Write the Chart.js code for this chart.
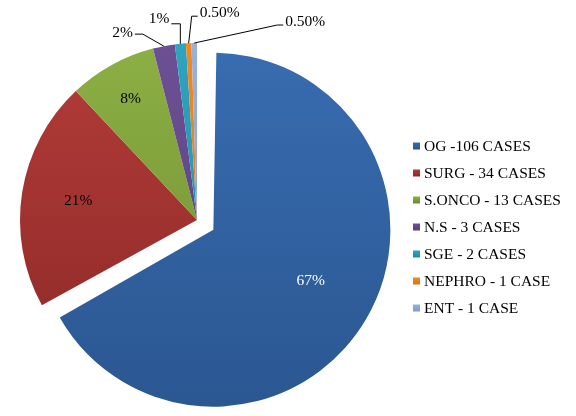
<!DOCTYPE html>
<html>
<head>
<meta charset="utf-8">
<style>
  html, body { margin: 0; padding: 0; background: #fff; }
  #wrap { width: 576px; height: 416px; }
</style>
<script src="https://cdn.jsdelivr.net/npm/chart.js@4.4.1/dist/chart.umd.min.js"></script>
</head>
<body>
<div id="wrap"><canvas id="pieChart" width="576" height="416"></canvas></div>
<script>
// Chart data
const categories = ['OG -106 CASES', 'SURG - 34 CASES', 'S.ONCO - 13 CASES', 'N.S - 3 CASES', 'SGE - 2 CASES', 'NEPHRO - 1 CASE', 'ENT - 1 CASE'];
const shares = [67, 21, 8, 2, 1, 0.5, 0.5];
const shareLabels = ['67%', '21%', '8%', '2%', '1%', '0.50%', '0.50%'];

// Slice colours (top / bottom of the shading)
const topColors = ['#386cb0', '#b43c39', '#8db045', '#6d5094', '#2fa3bf', '#f08a25', '#98b2dc'];
const bottomColors = ['#2a5690', '#8a2826', '#6c8a2e', '#57407a', '#238aa3', '#d5731a', '#7f9bc9'];

const FONT = '"Liberation Serif", "Times New Roman", serif';

// label placement: inside labels use fraction of radius (+ small angle nudge in degrees),
// outside ones use leader lines
const insideLabel = {
    0: { r: 0.62, a: -3, color: '#ffffff' },
    1: { r: 0.68, a: 0, color: '#000' },
    2: { r: 0.78, a: 0, color: '#000' }
};
const leaders = {
    3: { ex: -21, ey: -12, h: -8, ty: -1 },
    4: { ex: 0, ey: -20, h: -9, ty: -5 },
    5: { ex: 3, ey: -27, h: 6, ty: -3 },
    6: { ex: 83, ey: -18, h: 6, ty: -3 }
};

function sliceFill(context) {
    const chart = context.chart;
    const area = chart.chartArea;
    const i = context.dataIndex;
    if (!area) return topColors[i];
    const cy = (area.top + area.bottom) / 2;
    const g = chart.ctx.createLinearGradient(0, cy - 180, 0, cy + 190);
    g.addColorStop(0, topColors[i]);
    g.addColorStop(1, bottomColors[i]);
    return g;
}

// Chart.js grows an exploded slice's radius along with the shift; keep it the same size as the rest
const keepRadius = {
    id: 'keepRadius',
    afterDatasetsUpdate(chart) {
        chart.getDatasetMeta(0).data.forEach(arc => {
            const o = (arc.options.offset || 0) / 4;
            const fix = 1 - Math.sin(Math.min(Math.PI, arc.circumference || 0));
            arc.$grow = o * fix;
            arc.$shift = o;
            arc.outerRadius -= arc.$grow;
        });
    }
};

const labelPlugin = {
    id: 'sliceLabels',
    afterDatasetsDraw(chart) {
        const ctx = chart.ctx;
        const arcs = chart.getDatasetMeta(0).data;
        ctx.save();
        ctx.font = '15.5px ' + FONT;
        ctx.textBaseline = 'middle';
        arcs.forEach((arc, i) => {
            const mid = (arc.startAngle + arc.endAngle) / 2;
            const R = arc.outerRadius + (arc.$grow || 0);
            if (insideLabel[i]) {
                const lab = insideLabel[i];
                const sx = arc.x + Math.cos(mid) * (arc.$shift || 0);
                const sy = arc.y + Math.sin(mid) * (arc.$shift || 0);
                const ang = mid + lab.a * Math.PI / 180;
                ctx.fillStyle = lab.color;
                ctx.textAlign = 'center';
                ctx.fillText(shareLabels[i], sx + Math.cos(ang) * R * lab.r, sy + Math.sin(ang) * R * lab.r);
                return;
            }
            const l = leaders[i];
            const px = arc.x + Math.cos(mid) * R;
            const py = arc.y + Math.sin(mid) * R;
            const bx = px + l.ex, by = py + l.ey;
            ctx.strokeStyle = '#000';
            ctx.lineWidth = 1;
            ctx.beginPath();
            ctx.moveTo(px, py);
            ctx.lineTo(bx, by);
            ctx.lineTo(bx + l.h, by);
            ctx.stroke();
            ctx.fillStyle = '#000';
            ctx.textAlign = l.h < 0 ? 'right' : 'left';
            ctx.fillText(shareLabels[i], bx + l.h + (l.h < 0 ? -2 : 2), by + l.ty);
        });
        ctx.restore();
    }
};

const legendPlugin = {
    id: 'sideLegend',
    afterDraw(chart) {
        const ctx = chart.ctx;
        const x = 413, y0 = 146, step = 27;
        ctx.save();
        ctx.font = '15.5px ' + FONT;
        ctx.textBaseline = 'middle';
        ctx.textAlign = 'left';
        categories.forEach((name, i) => {
            const y = y0 + i * step;
            const g = ctx.createLinearGradient(0, y - 3.5, 0, y + 3.5);
            g.addColorStop(0, topColors[i]);
            g.addColorStop(1, bottomColors[i]);
            ctx.fillStyle = g;
            ctx.fillRect(x, y - 3.5, 7, 7);
            ctx.fillStyle = '#000';
            ctx.fillText(name, x + 11, y + 1);
        });
        ctx.restore();
    }
};

new Chart(document.getElementById('pieChart'), {
    type: 'pie',
    data: {
        labels: categories,
        datasets: [{
            data: shares,
            backgroundColor: sliceFill,
            borderWidth: 0,
            offset: [76, 0, 0, 0, 0, 0, 0],
            hoverOffset: 0
        }]
    },
    options: {
        responsive: false,
        animation: false,
        radius: 177,
        layout: { padding: { left: 0, right: 182, top: 24, bottom: 0 } },
        plugins: {
            legend: { display: false },
            tooltip: { enabled: false }
        }
    },
    plugins: [keepRadius, labelPlugin, legendPlugin]
});
</script>
</body>
</html>
